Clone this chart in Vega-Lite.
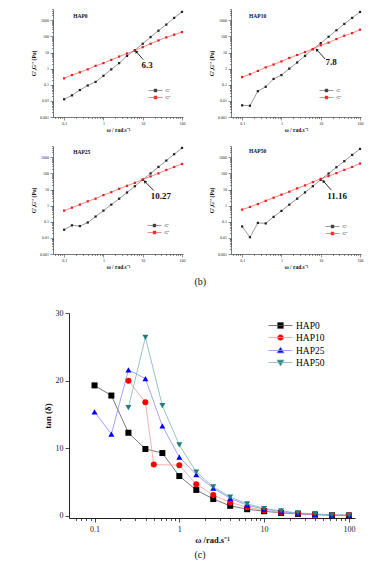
{
"$schema": "https://vega.github.io/schema/vega-lite/v6.json",
"padding": {"left": 31, "top": 7, "right": 2, "bottom": 2},
"config": {"view": {"stroke": null}, "axis": {"grid": false, "labelFont": "Liberation Serif", "titleFont": "Liberation Serif", "domainColor": "#222222", "tickColor": "#222222", "labelColor": "#222222", "titleColor": "#111111"}, "legend": {"labelFont": "Liberation Serif"}, "text": {"font": "Liberation Serif"}, "title": {"font": "Liberation Serif", "fontWeight": "normal", "color": "#111111"}},
"datasets": {
"mod": [
{"p":"HAP0","s":"G'","w":0.1,"v":0.0126},{"p":"HAP0","s":"G'","w":0.158,"v":0.022},{"p":"HAP0","s":"G'","w":0.251,"v":0.047},{"p":"HAP0","s":"G'","w":0.398,"v":0.09},{"p":"HAP0","s":"G'","w":0.631,"v":0.15},{"p":"HAP0","s":"G'","w":1,"v":0.36},{"p":"HAP0","s":"G'","w":1.585,"v":0.9},{"p":"HAP0","s":"G'","w":2.512,"v":2.2},{"p":"HAP0","s":"G'","w":3.981,"v":6.2},{"p":"HAP0","s":"G'","w":6.31,"v":14},{"p":"HAP0","s":"G'","w":10,"v":35},{"p":"HAP0","s":"G'","w":15.85,"v":91},{"p":"HAP0","s":"G'","w":25.12,"v":226},{"p":"HAP0","s":"G'","w":39.81,"v":540},{"p":"HAP0","s":"G'","w":63.1,"v":1400},{"p":"HAP0","s":"G'","w":100,"v":3300},
{"p":"HAP0","s":"G''","w":0.1,"v":0.25},{"p":"HAP0","s":"G''","w":0.158,"v":0.4},{"p":"HAP0","s":"G''","w":0.251,"v":0.59},{"p":"HAP0","s":"G''","w":0.398,"v":0.9},{"p":"HAP0","s":"G''","w":0.631,"v":1.5},{"p":"HAP0","s":"G''","w":1,"v":2.2},{"p":"HAP0","s":"G''","w":1.585,"v":3.5},{"p":"HAP0","s":"G''","w":2.512,"v":5.6},{"p":"HAP0","s":"G''","w":3.981,"v":8.7},{"p":"HAP0","s":"G''","w":6.31,"v":13},{"p":"HAP0","s":"G''","w":10,"v":21.5},{"p":"HAP0","s":"G''","w":15.85,"v":35},{"p":"HAP0","s":"G''","w":25.12,"v":56},{"p":"HAP0","s":"G''","w":39.81,"v":87},{"p":"HAP0","s":"G''","w":63.1,"v":127},{"p":"HAP0","s":"G''","w":100,"v":185},
{"p":"HAP10","s":"G'","w":0.1,"v":0.0053},{"p":"HAP10","s":"G'","w":0.158,"v":0.005},{"p":"HAP10","s":"G'","w":0.251,"v":0.04},{"p":"HAP10","s":"G'","w":0.398,"v":0.075},{"p":"HAP10","s":"G'","w":0.631,"v":0.23},{"p":"HAP10","s":"G'","w":1,"v":0.4},{"p":"HAP10","s":"G'","w":1.585,"v":1.0},{"p":"HAP10","s":"G'","w":2.512,"v":2.4},{"p":"HAP10","s":"G'","w":3.981,"v":6.2},{"p":"HAP10","s":"G'","w":6.31,"v":16},{"p":"HAP10","s":"G'","w":10,"v":38},{"p":"HAP10","s":"G'","w":15.85,"v":95},{"p":"HAP10","s":"G'","w":25.12,"v":240},{"p":"HAP10","s":"G'","w":39.81,"v":590},{"p":"HAP10","s":"G'","w":63.1,"v":1400},{"p":"HAP10","s":"G'","w":100,"v":3300},
{"p":"HAP10","s":"G''","w":0.1,"v":0.3},{"p":"HAP10","s":"G''","w":0.158,"v":0.45},{"p":"HAP10","s":"G''","w":0.251,"v":0.72},{"p":"HAP10","s":"G''","w":0.398,"v":1.2},{"p":"HAP10","s":"G''","w":0.631,"v":1.8},{"p":"HAP10","s":"G''","w":1,"v":2.8},{"p":"HAP10","s":"G''","w":1.585,"v":4.6},{"p":"HAP10","s":"G''","w":2.512,"v":7},{"p":"HAP10","s":"G''","w":3.981,"v":10.7},{"p":"HAP10","s":"G''","w":6.31,"v":16.6},{"p":"HAP10","s":"G''","w":10,"v":28},{"p":"HAP10","s":"G''","w":15.85,"v":41},{"p":"HAP10","s":"G''","w":25.12,"v":68},{"p":"HAP10","s":"G''","w":39.81,"v":110},{"p":"HAP10","s":"G''","w":63.1,"v":160},{"p":"HAP10","s":"G''","w":100,"v":260},
{"p":"HAP25","s":"G'","w":0.1,"v":0.032},{"p":"HAP25","s":"G'","w":0.158,"v":0.06},{"p":"HAP25","s":"G'","w":0.251,"v":0.054},{"p":"HAP25","s":"G'","w":0.398,"v":0.09},{"p":"HAP25","s":"G'","w":0.631,"v":0.21},{"p":"HAP25","s":"G'","w":1,"v":0.49},{"p":"HAP25","s":"G'","w":1.585,"v":1.15},{"p":"HAP25","s":"G'","w":2.512,"v":2.7},{"p":"HAP25","s":"G'","w":3.981,"v":6.5},{"p":"HAP25","s":"G'","w":6.31,"v":16},{"p":"HAP25","s":"G'","w":10,"v":40},{"p":"HAP25","s":"G'","w":15.85,"v":100},{"p":"HAP25","s":"G'","w":25.12,"v":250},{"p":"HAP25","s":"G'","w":39.81,"v":620},{"p":"HAP25","s":"G'","w":63.1,"v":1550},{"p":"HAP25","s":"G'","w":100,"v":3800},
{"p":"HAP25","s":"G''","w":0.1,"v":0.49},{"p":"HAP25","s":"G''","w":0.158,"v":0.75},{"p":"HAP25","s":"G''","w":0.251,"v":1.15},{"p":"HAP25","s":"G''","w":0.398,"v":1.85},{"p":"HAP25","s":"G''","w":0.631,"v":2.7},{"p":"HAP25","s":"G''","w":1,"v":4.5},{"p":"HAP25","s":"G''","w":1.585,"v":6.8},{"p":"HAP25","s":"G''","w":2.512,"v":11},{"p":"HAP25","s":"G''","w":3.981,"v":17},{"p":"HAP25","s":"G''","w":6.31,"v":26},{"p":"HAP25","s":"G''","w":10,"v":42},{"p":"HAP25","s":"G''","w":15.85,"v":65},{"p":"HAP25","s":"G''","w":25.12,"v":100},{"p":"HAP25","s":"G''","w":39.81,"v":162},{"p":"HAP25","s":"G''","w":63.1,"v":250},{"p":"HAP25","s":"G''","w":100,"v":385},
{"p":"HAP50","s":"G'","w":0.1,"v":0.051},{"p":"HAP50","s":"G'","w":0.158,"v":0.011},{"p":"HAP50","s":"G'","w":0.251,"v":0.085},{"p":"HAP50","s":"G'","w":0.398,"v":0.079},{"p":"HAP50","s":"G'","w":0.631,"v":0.2},{"p":"HAP50","s":"G'","w":1,"v":0.47},{"p":"HAP50","s":"G'","w":1.585,"v":1.15},{"p":"HAP50","s":"G'","w":2.512,"v":2.7},{"p":"HAP50","s":"G'","w":3.981,"v":6.6},{"p":"HAP50","s":"G'","w":6.31,"v":16},{"p":"HAP50","s":"G'","w":10,"v":40},{"p":"HAP50","s":"G'","w":15.85,"v":98},{"p":"HAP50","s":"G'","w":25.12,"v":240},{"p":"HAP50","s":"G'","w":39.81,"v":570},{"p":"HAP50","s":"G'","w":63.1,"v":1400},{"p":"HAP50","s":"G'","w":100,"v":3300},
{"p":"HAP50","s":"G''","w":0.1,"v":0.57},{"p":"HAP50","s":"G''","w":0.158,"v":0.83},{"p":"HAP50","s":"G''","w":0.251,"v":1.26},{"p":"HAP50","s":"G''","w":0.398,"v":2.0},{"p":"HAP50","s":"G''","w":0.631,"v":3.1},{"p":"HAP50","s":"G''","w":1,"v":4.8},{"p":"HAP50","s":"G''","w":1.585,"v":7.3},{"p":"HAP50","s":"G''","w":2.512,"v":11.7},{"p":"HAP50","s":"G''","w":3.981,"v":18},{"p":"HAP50","s":"G''","w":6.31,"v":29},{"p":"HAP50","s":"G''","w":10,"v":46},{"p":"HAP50","s":"G''","w":15.85,"v":68},{"p":"HAP50","s":"G''","w":25.12,"v":103},{"p":"HAP50","s":"G''","w":39.81,"v":165},{"p":"HAP50","s":"G''","w":63.1,"v":250},{"p":"HAP50","s":"G''","w":100,"v":410}
],
"ann": [
{"p":"HAP0","lab":"6.3","tx":12.9,"ty":1.78,"ax":10.3,"ay":3.6,"bx":6.8,"by":11.5,"hx":0.17,"hy":1780},
{"p":"HAP10","lab":"7.8","tx":18.4,"ty":2.63,"ax":12.9,"ay":4.0,"bx":7.9,"by":15,"hx":0.15,"hy":1780},
{"p":"HAP25","lab":"10.27","tx":29,"ty":4.2,"ax":19,"ay":8.7,"bx":11.3,"by":31.6,"hx":0.17,"hy":2050},
{"p":"HAP50","lab":"11.16","tx":26,"ty":4.1,"ax":18.5,"ay":9.4,"bx":11.6,"by":33.6,"hx":0.15,"hy":2300}
],
"tan": [
{"s":"HAP0","w":0.1,"t":19.3},{"s":"HAP0","w":0.158,"t":17.8},{"s":"HAP0","w":0.251,"t":12.3},{"s":"HAP0","w":0.398,"t":9.9},{"s":"HAP0","w":0.631,"t":9.3},{"s":"HAP0","w":1,"t":5.9},{"s":"HAP0","w":1.585,"t":3.85},{"s":"HAP0","w":2.512,"t":2.5},{"s":"HAP0","w":3.981,"t":1.5},{"s":"HAP0","w":6.31,"t":1.0},{"s":"HAP0","w":10,"t":0.7},{"s":"HAP0","w":15.85,"t":0.45},{"s":"HAP0","w":25.12,"t":0.3},{"s":"HAP0","w":39.81,"t":0.2},{"s":"HAP0","w":63.1,"t":0.12},{"s":"HAP0","w":100,"t":0.08},
{"s":"HAP10","w":0.251,"t":20.0},{"s":"HAP10","w":0.398,"t":16.8},{"s":"HAP10","w":0.5,"t":7.6},{"s":"HAP10","w":1,"t":7.5},{"s":"HAP10","w":1.585,"t":4.7},{"s":"HAP10","w":2.512,"t":3.1},{"s":"HAP10","w":3.981,"t":2.0},{"s":"HAP10","w":6.31,"t":1.3},{"s":"HAP10","w":10,"t":0.8},{"s":"HAP10","w":15.85,"t":0.5},{"s":"HAP10","w":25.12,"t":0.35},{"s":"HAP10","w":39.81,"t":0.25},{"s":"HAP10","w":63.1,"t":0.15},{"s":"HAP10","w":100,"t":0.1},
{"s":"HAP25","w":0.1,"t":15.4},{"s":"HAP25","w":0.158,"t":12.1},{"s":"HAP25","w":0.251,"t":21.6},{"s":"HAP25","w":0.398,"t":20.3},{"s":"HAP25","w":0.631,"t":13.3},{"s":"HAP25","w":1,"t":8.7},{"s":"HAP25","w":1.585,"t":6.1},{"s":"HAP25","w":2.512,"t":4.1},{"s":"HAP25","w":3.981,"t":2.6},{"s":"HAP25","w":6.31,"t":1.6},{"s":"HAP25","w":10,"t":1.0},{"s":"HAP25","w":15.85,"t":0.65},{"s":"HAP25","w":25.12,"t":0.4},{"s":"HAP25","w":39.81,"t":0.25},{"s":"HAP25","w":63.1,"t":0.15},{"s":"HAP25","w":100,"t":0.1},
{"s":"HAP50","w":0.251,"t":16.0},{"s":"HAP50","w":0.398,"t":26.4},{"s":"HAP50","w":0.631,"t":16.3},{"s":"HAP50","w":1,"t":10.5},{"s":"HAP50","w":1.585,"t":6.5},{"s":"HAP50","w":2.512,"t":4.3},{"s":"HAP50","w":3.981,"t":2.8},{"s":"HAP50","w":6.31,"t":1.8},{"s":"HAP50","w":10,"t":1.1},{"s":"HAP50","w":15.85,"t":0.75},{"s":"HAP50","w":25.12,"t":0.45},{"s":"HAP50","w":39.81,"t":0.3},{"s":"HAP50","w":63.1,"t":0.15},{"s":"HAP50","w":100,"t":0.1}
]
},
"spacing": 22,
"resolve": {"scale": {"fill": "independent", "stroke": "independent", "shape": "independent", "x": "independent", "y": "independent"}},
"vconcat": [
{"spacing": 11,
 "resolve": {"scale": {"fill": "independent", "stroke": "independent", "shape": "independent", "x": "independent", "y": "independent"}},
 "vconcat": [
 {"bounds": "flush", "spacing": 48,
  "resolve": {"scale": {"fill": "independent", "stroke": "independent", "shape": "independent", "x": "independent", "y": "independent"}},
  "hconcat": [
  {"width": 130, "height": 108, "layer": [
   {"data": {"name": "mod"}, "transform": [{"filter": "datum.p == 'HAP0'"}], "mark": {"type": "line", "strokeWidth": 0.6},
    "encoding": {
     "x": {"field": "w", "type": "quantitative", "scale": {"type": "log", "domain": [0.052, 106], "nice": false}, "axis": {"title": "ω / rad.s⁻¹", "values": [0.06,0.07,0.08,0.09,0.1,0.2,0.3,0.4,0.5,0.6,0.7,0.8,0.9,1,2,3,4,5,6,7,8,9,10,20,30,40,50,60,70,80,90,100], "format": "~g", "labelExpr": "indexof([0.1,1,10,100], datum.value) >= 0 ? datum.label : ''", "tickSize": {"condition": {"test": "indexof([0.1,1,10,100], datum.value) >= 0", "value": 3}, "value": 1.5}, "labelFontSize": 4, "titleFontSize": 5.5, "titleFontWeight": "bold", "labelPadding": 1.5, "titlePadding": 2, "domainWidth": 0.6, "tickWidth": 0.5, "labelFlush": false, "labelOverlap": false}},
     "y": {"field": "v", "type": "quantitative", "scale": {"type": "log", "domain": [0.001, 5000], "nice": false}, "axis": {"title": "G',G'' (Pa)", "values": [0.001,0.002,0.003,0.004,0.005,0.006,0.007,0.008,0.009,0.01,0.02,0.03,0.04,0.05,0.06,0.07,0.08,0.09,0.1,0.2,0.3,0.4,0.5,0.6,0.7,0.8,0.9,1,2,3,4,5,6,7,8,9,10,20,30,40,50,60,70,80,90,100,200,300,400,500,600,700,800,900,1000,2000,3000,4000,5000], "format": "~g", "labelExpr": "indexof([0.001,0.01,0.1,1,10,100,1000], datum.value) >= 0 ? datum.label : ''", "tickSize": {"condition": {"test": "indexof([0.001,0.01,0.1,1,10,100,1000], datum.value) >= 0", "value": 3}, "value": 1.5}, "labelFontSize": 4, "titleFontSize": 5.5, "titleFontWeight": "bold", "labelPadding": 1.5, "titlePadding": 3, "domainWidth": 0.6, "tickWidth": 0.5, "labelFlush": false, "labelOverlap": false}},
     "detail": {"field": "s"},
     "stroke": {"condition": {"test": "datum.s === \"G'\"", "value": "#555555"}, "value": "#f03a3a"}}},
   {"data": {"name": "mod"}, "transform": [{"filter": "datum.p == 'HAP0'"}], "mark": {"type": "point", "shape": "square", "filled": true, "size": 5, "opacity": 1},
    "encoding": {
     "x": {"field": "w", "type": "quantitative", "scale": {"type": "log", "domain": [0.052, 106], "nice": false}},
     "y": {"field": "v", "type": "quantitative", "scale": {"type": "log", "domain": [0.001, 5000], "nice": false}},
     "fill": {"condition": {"test": "datum.s === \"G'\"", "value": "#222222"}, "value": "#ee1c1c"}}},
   {"data": {"name": "mod"}, "transform": [{"filter": "false"}], "mark": {"type": "point", "filled": true, "size": 49, "strokeWidth": 0.6, "opacity": 1},
    "encoding": {
     "x": {"field": "w", "type": "quantitative", "scale": {"type": "log", "domain": [0.052, 106], "nice": false}},
     "y": {"field": "v", "type": "quantitative", "scale": {"type": "log", "domain": [0.001, 5000], "nice": false}},
     "fill": {"field": "s", "type": "nominal", "scale": {"domain": ["G'", "G''"], "range": ["#222222", "#ee1c1c"]}, "legend": {"orient": "none", "legendX": 98.5, "legendY": 77.5, "title": null, "labelFontSize": 4.5, "symbolSize": 49, "symbolStrokeWidth": 0.6, "labelOffset": 6, "rowPadding": 0, "padding": 0}},
     "stroke": {"field": "s", "type": "nominal", "scale": {"domain": ["G'", "G''"], "range": ["#555555", "#f03a3a"]}, "legend": {"orient": "none", "legendX": 98.5, "legendY": 77.5, "title": null, "labelFontSize": 4.5, "symbolSize": 49, "symbolStrokeWidth": 0.6, "labelOffset": 6, "rowPadding": 0, "padding": 0}},
     "shape": {"field": "s", "type": "nominal", "scale": {"domain": ["G'", "G''"], "range": ["M-2,0H2M-0.4,-0.4H0.4V0.4H-0.4Z", "M-2,0H2M-0.4,-0.4H0.4V0.4H-0.4Z"]}, "legend": {"orient": "none", "legendX": 98.5, "legendY": 77.5, "title": null, "labelFontSize": 4.5, "symbolSize": 49, "symbolStrokeWidth": 0.6, "labelOffset": 6, "rowPadding": 0, "padding": 0}}}},
   {"data": {"name": "ann"}, "transform": [{"filter": "datum.p == 'HAP0'"}], "mark": {"type": "text", "fontWeight": "bold", "fontSize": 9, "align": "center", "baseline": "middle", "color": "#111111"},
    "encoding": {"x": {"field": "tx", "type": "quantitative", "scale": {"type": "log", "domain": [0.052, 106], "nice": false}}, "y": {"field": "ty", "type": "quantitative", "scale": {"type": "log", "domain": [0.001, 5000], "nice": false}}, "text": {"field": "lab"}}},
   {"data": {"name": "ann"}, "transform": [{"filter": "datum.p == 'HAP0'"}], "mark": {"type": "text", "fontWeight": "bold", "fontSize": 5.5, "align": "left", "baseline": "middle", "color": "#111111"},
    "encoding": {"x": {"field": "hx", "type": "quantitative", "scale": {"type": "log", "domain": [0.052, 106], "nice": false}}, "y": {"field": "hy", "type": "quantitative", "scale": {"type": "log", "domain": [0.001, 5000], "nice": false}}, "text": {"field": "p"}}},
   {"data": {"name": "ann"}, "transform": [{"filter": "datum.p == 'HAP0'"}], "mark": {"type": "rule", "strokeWidth": 0.9, "color": "#111111"},
    "encoding": {"x": {"field": "ax", "type": "quantitative", "scale": {"type": "log", "domain": [0.052, 106], "nice": false}}, "y": {"field": "ay", "type": "quantitative", "scale": {"type": "log", "domain": [0.001, 5000], "nice": false}}, "x2": {"field": "bx"}, "y2": {"field": "by"}}},
   {"data": {"name": "ann"}, "transform": [{"filter": "datum.p == 'HAP0'"}], "mark": {"type": "point", "shape": "triangle-up", "filled": true, "size": 12, "angle": -40, "color": "#111111", "opacity": 1},
    "encoding": {"x": {"field": "bx", "type": "quantitative", "scale": {"type": "log", "domain": [0.052, 106], "nice": false}}, "y": {"field": "by", "type": "quantitative", "scale": {"type": "log", "domain": [0.001, 5000], "nice": false}}}}
  ]},
  {"width": 130, "height": 108, "layer": [
   {"data": {"name": "mod"}, "transform": [{"filter": "datum.p == 'HAP10'"}], "mark": {"type": "line", "strokeWidth": 0.6},
    "encoding": {
     "x": {"field": "w", "type": "quantitative", "scale": {"type": "log", "domain": [0.052, 106], "nice": false}, "axis": {"title": "ω / rad.s⁻¹", "values": [0.06,0.07,0.08,0.09,0.1,0.2,0.3,0.4,0.5,0.6,0.7,0.8,0.9,1,2,3,4,5,6,7,8,9,10,20,30,40,50,60,70,80,90,100], "format": "~g", "labelExpr": "indexof([0.1,1,10,100], datum.value) >= 0 ? datum.label : ''", "tickSize": {"condition": {"test": "indexof([0.1,1,10,100], datum.value) >= 0", "value": 3}, "value": 1.5}, "labelFontSize": 4, "titleFontSize": 5.5, "titleFontWeight": "bold", "labelPadding": 1.5, "titlePadding": 2, "domainWidth": 0.6, "tickWidth": 0.5, "labelFlush": false, "labelOverlap": false}},
     "y": {"field": "v", "type": "quantitative", "scale": {"type": "log", "domain": [0.001, 5000], "nice": false}, "axis": {"title": "G',G'' (Pa)", "values": [0.001,0.002,0.003,0.004,0.005,0.006,0.007,0.008,0.009,0.01,0.02,0.03,0.04,0.05,0.06,0.07,0.08,0.09,0.1,0.2,0.3,0.4,0.5,0.6,0.7,0.8,0.9,1,2,3,4,5,6,7,8,9,10,20,30,40,50,60,70,80,90,100,200,300,400,500,600,700,800,900,1000,2000,3000,4000,5000], "format": "~g", "labelExpr": "indexof([0.001,0.01,0.1,1,10,100,1000], datum.value) >= 0 ? datum.label : ''", "tickSize": {"condition": {"test": "indexof([0.001,0.01,0.1,1,10,100,1000], datum.value) >= 0", "value": 3}, "value": 1.5}, "labelFontSize": 4, "titleFontSize": 5.5, "titleFontWeight": "bold", "labelPadding": 1.5, "titlePadding": 3, "domainWidth": 0.6, "tickWidth": 0.5, "labelFlush": false, "labelOverlap": false}},
     "detail": {"field": "s"},
     "stroke": {"condition": {"test": "datum.s === \"G'\"", "value": "#555555"}, "value": "#f03a3a"}}},
   {"data": {"name": "mod"}, "transform": [{"filter": "datum.p == 'HAP10'"}], "mark": {"type": "point", "shape": "square", "filled": true, "size": 5, "opacity": 1},
    "encoding": {
     "x": {"field": "w", "type": "quantitative", "scale": {"type": "log", "domain": [0.052, 106], "nice": false}},
     "y": {"field": "v", "type": "quantitative", "scale": {"type": "log", "domain": [0.001, 5000], "nice": false}},
     "fill": {"condition": {"test": "datum.s === \"G'\"", "value": "#222222"}, "value": "#ee1c1c"}}},
   {"data": {"name": "mod"}, "transform": [{"filter": "false"}], "mark": {"type": "point", "filled": true, "size": 49, "strokeWidth": 0.6, "opacity": 1},
    "encoding": {
     "x": {"field": "w", "type": "quantitative", "scale": {"type": "log", "domain": [0.052, 106], "nice": false}},
     "y": {"field": "v", "type": "quantitative", "scale": {"type": "log", "domain": [0.001, 5000], "nice": false}},
     "fill": {"field": "s", "type": "nominal", "scale": {"domain": ["G'", "G''"], "range": ["#222222", "#ee1c1c"]}, "legend": {"orient": "none", "legendX": 91.5, "legendY": 77.5, "title": null, "labelFontSize": 4.5, "symbolSize": 49, "symbolStrokeWidth": 0.6, "labelOffset": 6, "rowPadding": 0, "padding": 0}},
     "stroke": {"field": "s", "type": "nominal", "scale": {"domain": ["G'", "G''"], "range": ["#555555", "#f03a3a"]}, "legend": {"orient": "none", "legendX": 91.5, "legendY": 77.5, "title": null, "labelFontSize": 4.5, "symbolSize": 49, "symbolStrokeWidth": 0.6, "labelOffset": 6, "rowPadding": 0, "padding": 0}},
     "shape": {"field": "s", "type": "nominal", "scale": {"domain": ["G'", "G''"], "range": ["M-2,0H2M-0.4,-0.4H0.4V0.4H-0.4Z", "M-2,0H2M-0.4,-0.4H0.4V0.4H-0.4Z"]}, "legend": {"orient": "none", "legendX": 91.5, "legendY": 77.5, "title": null, "labelFontSize": 4.5, "symbolSize": 49, "symbolStrokeWidth": 0.6, "labelOffset": 6, "rowPadding": 0, "padding": 0}}}},
   {"data": {"name": "ann"}, "transform": [{"filter": "datum.p == 'HAP10'"}], "mark": {"type": "text", "fontWeight": "bold", "fontSize": 9, "align": "center", "baseline": "middle", "color": "#111111"},
    "encoding": {"x": {"field": "tx", "type": "quantitative", "scale": {"type": "log", "domain": [0.052, 106], "nice": false}}, "y": {"field": "ty", "type": "quantitative", "scale": {"type": "log", "domain": [0.001, 5000], "nice": false}}, "text": {"field": "lab"}}},
   {"data": {"name": "ann"}, "transform": [{"filter": "datum.p == 'HAP10'"}], "mark": {"type": "text", "fontWeight": "bold", "fontSize": 5.5, "align": "left", "baseline": "middle", "color": "#111111"},
    "encoding": {"x": {"field": "hx", "type": "quantitative", "scale": {"type": "log", "domain": [0.052, 106], "nice": false}}, "y": {"field": "hy", "type": "quantitative", "scale": {"type": "log", "domain": [0.001, 5000], "nice": false}}, "text": {"field": "p"}}},
   {"data": {"name": "ann"}, "transform": [{"filter": "datum.p == 'HAP10'"}], "mark": {"type": "rule", "strokeWidth": 0.9, "color": "#111111"},
    "encoding": {"x": {"field": "ax", "type": "quantitative", "scale": {"type": "log", "domain": [0.052, 106], "nice": false}}, "y": {"field": "ay", "type": "quantitative", "scale": {"type": "log", "domain": [0.001, 5000], "nice": false}}, "x2": {"field": "bx"}, "y2": {"field": "by"}}},
   {"data": {"name": "ann"}, "transform": [{"filter": "datum.p == 'HAP10'"}], "mark": {"type": "point", "shape": "triangle-up", "filled": true, "size": 12, "angle": -40, "color": "#111111", "opacity": 1},
    "encoding": {"x": {"field": "bx", "type": "quantitative", "scale": {"type": "log", "domain": [0.052, 106], "nice": false}}, "y": {"field": "by", "type": "quantitative", "scale": {"type": "log", "domain": [0.001, 5000], "nice": false}}}}
  ]}
 ]},
 {"bounds": "flush", "spacing": 48,
  "resolve": {"scale": {"fill": "independent", "stroke": "independent", "shape": "independent", "x": "independent", "y": "independent"}},
  "title": {"text": "(b)", "orient": "bottom", "anchor": "middle", "fontSize": 10, "offset": 7, "dx": 3},
  "hconcat": [
  {"width": 130, "height": 108, "layer": [
   {"data": {"name": "mod"}, "transform": [{"filter": "datum.p == 'HAP25'"}], "mark": {"type": "line", "strokeWidth": 0.6},
    "encoding": {
     "x": {"field": "w", "type": "quantitative", "scale": {"type": "log", "domain": [0.052, 106], "nice": false}, "axis": {"title": "ω / rad.s⁻¹", "values": [0.06,0.07,0.08,0.09,0.1,0.2,0.3,0.4,0.5,0.6,0.7,0.8,0.9,1,2,3,4,5,6,7,8,9,10,20,30,40,50,60,70,80,90,100], "format": "~g", "labelExpr": "indexof([0.1,1,10,100], datum.value) >= 0 ? datum.label : ''", "tickSize": {"condition": {"test": "indexof([0.1,1,10,100], datum.value) >= 0", "value": 3}, "value": 1.5}, "labelFontSize": 4, "titleFontSize": 5.5, "titleFontWeight": "bold", "labelPadding": 1.5, "titlePadding": 2, "domainWidth": 0.6, "tickWidth": 0.5, "labelFlush": false, "labelOverlap": false}},
     "y": {"field": "v", "type": "quantitative", "scale": {"type": "log", "domain": [0.001, 5000], "nice": false}, "axis": {"title": "G',G'' (Pa)", "values": [0.001,0.002,0.003,0.004,0.005,0.006,0.007,0.008,0.009,0.01,0.02,0.03,0.04,0.05,0.06,0.07,0.08,0.09,0.1,0.2,0.3,0.4,0.5,0.6,0.7,0.8,0.9,1,2,3,4,5,6,7,8,9,10,20,30,40,50,60,70,80,90,100,200,300,400,500,600,700,800,900,1000,2000,3000,4000,5000], "format": "~g", "labelExpr": "indexof([0.001,0.01,0.1,1,10,100,1000], datum.value) >= 0 ? datum.label : ''", "tickSize": {"condition": {"test": "indexof([0.001,0.01,0.1,1,10,100,1000], datum.value) >= 0", "value": 3}, "value": 1.5}, "labelFontSize": 4, "titleFontSize": 5.5, "titleFontWeight": "bold", "labelPadding": 1.5, "titlePadding": 3, "domainWidth": 0.6, "tickWidth": 0.5, "labelFlush": false, "labelOverlap": false}},
     "detail": {"field": "s"},
     "stroke": {"condition": {"test": "datum.s === \"G'\"", "value": "#555555"}, "value": "#f03a3a"}}},
   {"data": {"name": "mod"}, "transform": [{"filter": "datum.p == 'HAP25'"}], "mark": {"type": "point", "shape": "square", "filled": true, "size": 5, "opacity": 1},
    "encoding": {
     "x": {"field": "w", "type": "quantitative", "scale": {"type": "log", "domain": [0.052, 106], "nice": false}},
     "y": {"field": "v", "type": "quantitative", "scale": {"type": "log", "domain": [0.001, 5000], "nice": false}},
     "fill": {"condition": {"test": "datum.s === \"G'\"", "value": "#222222"}, "value": "#ee1c1c"}}},
   {"data": {"name": "mod"}, "transform": [{"filter": "false"}], "mark": {"type": "point", "filled": true, "size": 49, "strokeWidth": 0.6, "opacity": 1},
    "encoding": {
     "x": {"field": "w", "type": "quantitative", "scale": {"type": "log", "domain": [0.052, 106], "nice": false}},
     "y": {"field": "v", "type": "quantitative", "scale": {"type": "log", "domain": [0.001, 5000], "nice": false}},
     "fill": {"field": "s", "type": "nominal", "scale": {"domain": ["G'", "G''"], "range": ["#222222", "#ee1c1c"]}, "legend": {"orient": "none", "legendX": 97.5, "legendY": 75.5, "title": null, "labelFontSize": 4.5, "symbolSize": 49, "symbolStrokeWidth": 0.6, "labelOffset": 6, "rowPadding": 0, "padding": 0}},
     "stroke": {"field": "s", "type": "nominal", "scale": {"domain": ["G'", "G''"], "range": ["#555555", "#f03a3a"]}, "legend": {"orient": "none", "legendX": 97.5, "legendY": 75.5, "title": null, "labelFontSize": 4.5, "symbolSize": 49, "symbolStrokeWidth": 0.6, "labelOffset": 6, "rowPadding": 0, "padding": 0}},
     "shape": {"field": "s", "type": "nominal", "scale": {"domain": ["G'", "G''"], "range": ["M-2,0H2M-0.4,-0.4H0.4V0.4H-0.4Z", "M-2,0H2M-0.4,-0.4H0.4V0.4H-0.4Z"]}, "legend": {"orient": "none", "legendX": 97.5, "legendY": 75.5, "title": null, "labelFontSize": 4.5, "symbolSize": 49, "symbolStrokeWidth": 0.6, "labelOffset": 6, "rowPadding": 0, "padding": 0}}}},
   {"data": {"name": "ann"}, "transform": [{"filter": "datum.p == 'HAP25'"}], "mark": {"type": "text", "fontWeight": "bold", "fontSize": 9, "align": "center", "baseline": "middle", "color": "#111111"},
    "encoding": {"x": {"field": "tx", "type": "quantitative", "scale": {"type": "log", "domain": [0.052, 106], "nice": false}}, "y": {"field": "ty", "type": "quantitative", "scale": {"type": "log", "domain": [0.001, 5000], "nice": false}}, "text": {"field": "lab"}}},
   {"data": {"name": "ann"}, "transform": [{"filter": "datum.p == 'HAP25'"}], "mark": {"type": "text", "fontWeight": "bold", "fontSize": 5.5, "align": "left", "baseline": "middle", "color": "#111111"},
    "encoding": {"x": {"field": "hx", "type": "quantitative", "scale": {"type": "log", "domain": [0.052, 106], "nice": false}}, "y": {"field": "hy", "type": "quantitative", "scale": {"type": "log", "domain": [0.001, 5000], "nice": false}}, "text": {"field": "p"}}},
   {"data": {"name": "ann"}, "transform": [{"filter": "datum.p == 'HAP25'"}], "mark": {"type": "rule", "strokeWidth": 0.9, "color": "#111111"},
    "encoding": {"x": {"field": "ax", "type": "quantitative", "scale": {"type": "log", "domain": [0.052, 106], "nice": false}}, "y": {"field": "ay", "type": "quantitative", "scale": {"type": "log", "domain": [0.001, 5000], "nice": false}}, "x2": {"field": "bx"}, "y2": {"field": "by"}}},
   {"data": {"name": "ann"}, "transform": [{"filter": "datum.p == 'HAP25'"}], "mark": {"type": "point", "shape": "triangle-up", "filled": true, "size": 12, "angle": -40, "color": "#111111", "opacity": 1},
    "encoding": {"x": {"field": "bx", "type": "quantitative", "scale": {"type": "log", "domain": [0.052, 106], "nice": false}}, "y": {"field": "by", "type": "quantitative", "scale": {"type": "log", "domain": [0.001, 5000], "nice": false}}}}
  ]},
  {"width": 130, "height": 108, "layer": [
   {"data": {"name": "mod"}, "transform": [{"filter": "datum.p == 'HAP50'"}], "mark": {"type": "line", "strokeWidth": 0.6},
    "encoding": {
     "x": {"field": "w", "type": "quantitative", "scale": {"type": "log", "domain": [0.052, 106], "nice": false}, "axis": {"title": "ω / rad.s⁻¹", "values": [0.06,0.07,0.08,0.09,0.1,0.2,0.3,0.4,0.5,0.6,0.7,0.8,0.9,1,2,3,4,5,6,7,8,9,10,20,30,40,50,60,70,80,90,100], "format": "~g", "labelExpr": "indexof([0.1,1,10,100], datum.value) >= 0 ? datum.label : ''", "tickSize": {"condition": {"test": "indexof([0.1,1,10,100], datum.value) >= 0", "value": 3}, "value": 1.5}, "labelFontSize": 4, "titleFontSize": 5.5, "titleFontWeight": "bold", "labelPadding": 1.5, "titlePadding": 2, "domainWidth": 0.6, "tickWidth": 0.5, "labelFlush": false, "labelOverlap": false}},
     "y": {"field": "v", "type": "quantitative", "scale": {"type": "log", "domain": [0.001, 5000], "nice": false}, "axis": {"title": "G',G'' (Pa)", "values": [0.001,0.002,0.003,0.004,0.005,0.006,0.007,0.008,0.009,0.01,0.02,0.03,0.04,0.05,0.06,0.07,0.08,0.09,0.1,0.2,0.3,0.4,0.5,0.6,0.7,0.8,0.9,1,2,3,4,5,6,7,8,9,10,20,30,40,50,60,70,80,90,100,200,300,400,500,600,700,800,900,1000,2000,3000,4000,5000], "format": "~g", "labelExpr": "indexof([0.001,0.01,0.1,1,10,100,1000], datum.value) >= 0 ? datum.label : ''", "tickSize": {"condition": {"test": "indexof([0.001,0.01,0.1,1,10,100,1000], datum.value) >= 0", "value": 3}, "value": 1.5}, "labelFontSize": 4, "titleFontSize": 5.5, "titleFontWeight": "bold", "labelPadding": 1.5, "titlePadding": 3, "domainWidth": 0.6, "tickWidth": 0.5, "labelFlush": false, "labelOverlap": false}},
     "detail": {"field": "s"},
     "stroke": {"condition": {"test": "datum.s === \"G'\"", "value": "#555555"}, "value": "#f03a3a"}}},
   {"data": {"name": "mod"}, "transform": [{"filter": "datum.p == 'HAP50'"}], "mark": {"type": "point", "shape": "square", "filled": true, "size": 5, "opacity": 1},
    "encoding": {
     "x": {"field": "w", "type": "quantitative", "scale": {"type": "log", "domain": [0.052, 106], "nice": false}},
     "y": {"field": "v", "type": "quantitative", "scale": {"type": "log", "domain": [0.001, 5000], "nice": false}},
     "fill": {"condition": {"test": "datum.s === \"G'\"", "value": "#222222"}, "value": "#ee1c1c"}}},
   {"data": {"name": "mod"}, "transform": [{"filter": "false"}], "mark": {"type": "point", "filled": true, "size": 49, "strokeWidth": 0.6, "opacity": 1},
    "encoding": {
     "x": {"field": "w", "type": "quantitative", "scale": {"type": "log", "domain": [0.052, 106], "nice": false}},
     "y": {"field": "v", "type": "quantitative", "scale": {"type": "log", "domain": [0.001, 5000], "nice": false}},
     "fill": {"field": "s", "type": "nominal", "scale": {"domain": ["G'", "G''"], "range": ["#222222", "#ee1c1c"]}, "legend": {"orient": "none", "legendX": 97.5, "legendY": 76.5, "title": null, "labelFontSize": 4.5, "symbolSize": 49, "symbolStrokeWidth": 0.6, "labelOffset": 6, "rowPadding": 0, "padding": 0}},
     "stroke": {"field": "s", "type": "nominal", "scale": {"domain": ["G'", "G''"], "range": ["#555555", "#f03a3a"]}, "legend": {"orient": "none", "legendX": 97.5, "legendY": 76.5, "title": null, "labelFontSize": 4.5, "symbolSize": 49, "symbolStrokeWidth": 0.6, "labelOffset": 6, "rowPadding": 0, "padding": 0}},
     "shape": {"field": "s", "type": "nominal", "scale": {"domain": ["G'", "G''"], "range": ["M-2,0H2M-0.4,-0.4H0.4V0.4H-0.4Z", "M-2,0H2M-0.4,-0.4H0.4V0.4H-0.4Z"]}, "legend": {"orient": "none", "legendX": 97.5, "legendY": 76.5, "title": null, "labelFontSize": 4.5, "symbolSize": 49, "symbolStrokeWidth": 0.6, "labelOffset": 6, "rowPadding": 0, "padding": 0}}}},
   {"data": {"name": "ann"}, "transform": [{"filter": "datum.p == 'HAP50'"}], "mark": {"type": "text", "fontWeight": "bold", "fontSize": 9, "align": "center", "baseline": "middle", "color": "#111111"},
    "encoding": {"x": {"field": "tx", "type": "quantitative", "scale": {"type": "log", "domain": [0.052, 106], "nice": false}}, "y": {"field": "ty", "type": "quantitative", "scale": {"type": "log", "domain": [0.001, 5000], "nice": false}}, "text": {"field": "lab"}}},
   {"data": {"name": "ann"}, "transform": [{"filter": "datum.p == 'HAP50'"}], "mark": {"type": "text", "fontWeight": "bold", "fontSize": 5.5, "align": "left", "baseline": "middle", "color": "#111111"},
    "encoding": {"x": {"field": "hx", "type": "quantitative", "scale": {"type": "log", "domain": [0.052, 106], "nice": false}}, "y": {"field": "hy", "type": "quantitative", "scale": {"type": "log", "domain": [0.001, 5000], "nice": false}}, "text": {"field": "p"}}},
   {"data": {"name": "ann"}, "transform": [{"filter": "datum.p == 'HAP50'"}], "mark": {"type": "rule", "strokeWidth": 0.9, "color": "#111111"},
    "encoding": {"x": {"field": "ax", "type": "quantitative", "scale": {"type": "log", "domain": [0.052, 106], "nice": false}}, "y": {"field": "ay", "type": "quantitative", "scale": {"type": "log", "domain": [0.001, 5000], "nice": false}}, "x2": {"field": "bx"}, "y2": {"field": "by"}}},
   {"data": {"name": "ann"}, "transform": [{"filter": "datum.p == 'HAP50'"}], "mark": {"type": "point", "shape": "triangle-up", "filled": true, "size": 12, "angle": -40, "color": "#111111", "opacity": 1},
    "encoding": {"x": {"field": "bx", "type": "quantitative", "scale": {"type": "log", "domain": [0.052, 106], "nice": false}}, "y": {"field": "by", "type": "quantitative", "scale": {"type": "log", "domain": [0.001, 5000], "nice": false}}}}
  ]}
 ]}
]},
{"bounds": "flush", "spacing": 15,
 "resolve": {"scale": {"fill": "independent", "stroke": "independent", "shape": "independent", "x": "independent", "y": "independent"}},
 "hconcat": [
 {"width": 1, "height": 205, "data": {"values": [{}]}, "mark": {"type": "text", "text": ""}, "encoding": {}},
 {"width": 286, "height": 205,
  "title": {"text": "(c)", "orient": "bottom", "anchor": "middle", "fontSize": 10, "dx": -12, "offset": 6},
  "data": {"name": "tan"},
  "layer": [
   {"mark": {"type": "line", "strokeWidth": 0.8},
    "encoding": {
     "x": {"field": "w", "type": "quantitative", "scale": {"type": "log", "domain": [0.05, 118], "nice": false}, "axis": {"title": "ω /rad.s⁻¹", "values": [0.06,0.07,0.08,0.09,0.1,0.2,0.3,0.4,0.5,0.6,0.7,0.8,0.9,1,2,3,4,5,6,7,8,9,10,20,30,40,50,60,70,80,90,100], "format": "~g", "labelExpr": "indexof([0.1,1,10,100], datum.value) >= 0 ? datum.label : ''", "tickSize": {"condition": {"test": "indexof([0.1,1,10,100], datum.value) >= 0", "value": 4}, "value": 2.5}, "labelFontSize": 8, "titleFontSize": 8.5, "titleFontWeight": "bold", "labelPadding": 3, "titlePadding": 2, "domainWidth": 1, "tickWidth": 0.8, "labelFlush": false, "labelOverlap": false}},
     "y": {"field": "t", "type": "quantitative", "scale": {"domain": [-0.3, 30], "nice": false, "zero": false}, "axis": {"title": "tan (δ)", "values": [0,5,10,15,20,25,30], "labelExpr": "datum.value % 10 == 0 ? datum.label : ''", "tickSize": {"condition": {"test": "datum.value % 10 == 0", "value": 4}, "value": 2.5}, "labelFontSize": 8, "titleFontSize": 9, "titleFontWeight": "bold", "labelPadding": 2, "titlePadding": 3, "domainWidth": 1, "tickWidth": 0.8}},
     "detail": {"field": "s"},
     "stroke": {"condition": [{"test": "datum.s === 'HAP0'", "value": "#555555"}, {"test": "datum.s === 'HAP10'", "value": "#f29a9a"}, {"test": "datum.s === 'HAP25'", "value": "#8a8aff"}], "value": "#7ab5b5"}}},
   {"mark": {"type": "point", "filled": true, "size": 36, "opacity": 1},
    "encoding": {
     "x": {"field": "w", "type": "quantitative", "scale": {"type": "log", "domain": [0.05, 118], "nice": false}},
     "y": {"field": "t", "type": "quantitative", "scale": {"domain": [-0.3, 30], "nice": false, "zero": false}},
     "shape": {"condition": [{"test": "datum.s === 'HAP0'", "value": "square"}, {"test": "datum.s === 'HAP10'", "value": "circle"}, {"test": "datum.s === 'HAP25'", "value": "triangle-up"}], "value": "triangle-down"},
     "fill": {"condition": [{"test": "datum.s === 'HAP0'", "value": "#000000"}, {"test": "datum.s === 'HAP10'", "value": "#ff0000"}, {"test": "datum.s === 'HAP25'", "value": "#0000ff"}], "value": "#1e7d7d"}}},
   {"transform": [{"filter": "false"}], "mark": {"type": "point", "filled": true, "size": 144, "strokeWidth": 0.8, "opacity": 1},
    "encoding": {
     "x": {"field": "w", "type": "quantitative", "scale": {"type": "log", "domain": [0.05, 118], "nice": false}},
     "y": {"field": "t", "type": "quantitative", "scale": {"domain": [-0.3, 30], "nice": false, "zero": false}},
     "shape": {"field": "s", "type": "nominal", "scale": {"domain": ["HAP0", "HAP10", "HAP25", "HAP50"], "range": ["M-2,0H2M-0.48,-0.48H0.48V0.48H-0.48Z", "M-2,0H2M-0.52,0A0.52,0.52,0,1,0,0.52,0A0.52,0.52,0,1,0,-0.52,0Z", "M-2,0H2M0,-0.6L0.58,0.4L-0.58,0.4Z", "M-2,0H2M0,0.6L0.58,-0.4L-0.58,-0.4Z"]}, "legend": {"orient": "none", "legendX": 205, "legendY": 6, "title": null, "labelFontSize": 9.5, "symbolSize": 144, "symbolStrokeWidth": 0.8, "labelOffset": 9, "rowPadding": 1, "padding": 0}},
     "fill": {"field": "s", "type": "nominal", "scale": {"domain": ["HAP0", "HAP10", "HAP25", "HAP50"], "range": ["#000000", "#ff0000", "#0000ff", "#1e7d7d"]}, "legend": {"orient": "none", "legendX": 205, "legendY": 6, "title": null, "labelFontSize": 9.5, "symbolSize": 144, "symbolStrokeWidth": 0.8, "labelOffset": 9, "rowPadding": 1, "padding": 0}},
     "stroke": {"field": "s", "type": "nominal", "scale": {"domain": ["HAP0", "HAP10", "HAP25", "HAP50"], "range": ["#555555", "#f29a9a", "#8a8aff", "#7ab5b5"]}, "legend": {"orient": "none", "legendX": 205, "legendY": 6, "title": null, "labelFontSize": 9.5, "symbolSize": 144, "symbolStrokeWidth": 0.8, "labelOffset": 9, "rowPadding": 1, "padding": 0}}}}
  ]}
 ]}
]
}
